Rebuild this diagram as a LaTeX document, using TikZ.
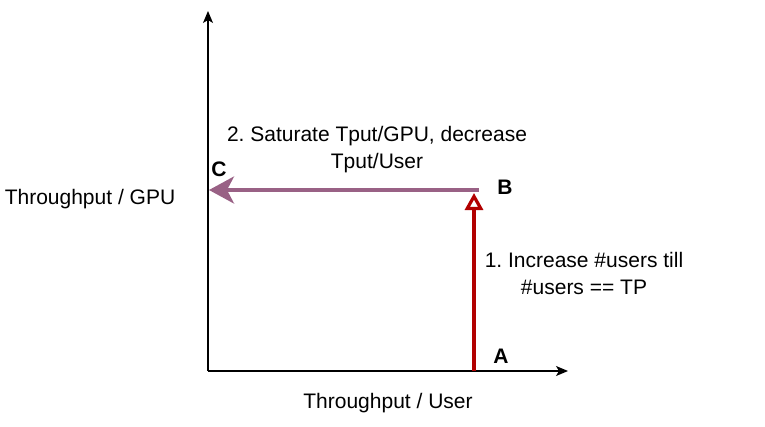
\documentclass[tikz,border=0pt]{standalone}
\usepackage{fontspec}
\setmainfont{Liberation Sans}
\usepackage{xcolor}
\usetikzlibrary{arrows.meta, positioning}

\definecolor{darkred}{HTML}{B20000}
\definecolor{mauve}{HTML}{996185}

\begin{document}
\frenchspacing
\begin{tikzpicture}[
    x=1pt, y=-1pt,
    axis/.style={line width=1.2pt, -{Stealth[length=12pt, width=10pt, inset=3pt]}},
    label/.style={font=\fontsize{21}{27}\selectfont, align=center, inner sep=0pt},
    point/.style={font=\fontsize{21}{25}\selectfont\bfseries, inner sep=0pt},
    risearrow/.style={line width=3.2pt, darkred, -{Triangle[open, length=17pt, width=18pt]}},
    leftarrow/.style={line width=3.6pt, mauve, -{Stealth[length=25pt, width=27pt, inset=7pt]}}
]
\useasboundingbox (0,0) rectangle (765,426);

% Axes
\coordinate (origin) at (208,371);
\coordinate (ytip) at (208,11);
\coordinate (xtip) at (568,371);
\draw[axis] (origin) -- (ytip);
\draw[axis] (origin) -- (xtip);

\node[label] (ylabel) at (90,199) {Throughput / GPU};
\node[label] (xlabel) at (388,403) {Throughput / User};

% Points
\coordinate (start) at (474,371);
\coordinate (top) at (474,193);
\coordinate (from) at (479,190);
\coordinate (to) at (209,190);

\node[point] (A) at (501,356) {A};
\node[point] (B) at (505,187) {B};
\node[point] (C) at (219,169) {C};

% Steps
\draw[risearrow] (start) -- (top);
\draw[leftarrow] (from) -- (to);

\node[label] (step1) at (584,273) {1. Increase \#users till\\\#users == TP};
\node[label] (step2) at (377,150) {2. Saturate Tput/GPU, decrease\\Tput/User};

\end{tikzpicture}
\end{document}
